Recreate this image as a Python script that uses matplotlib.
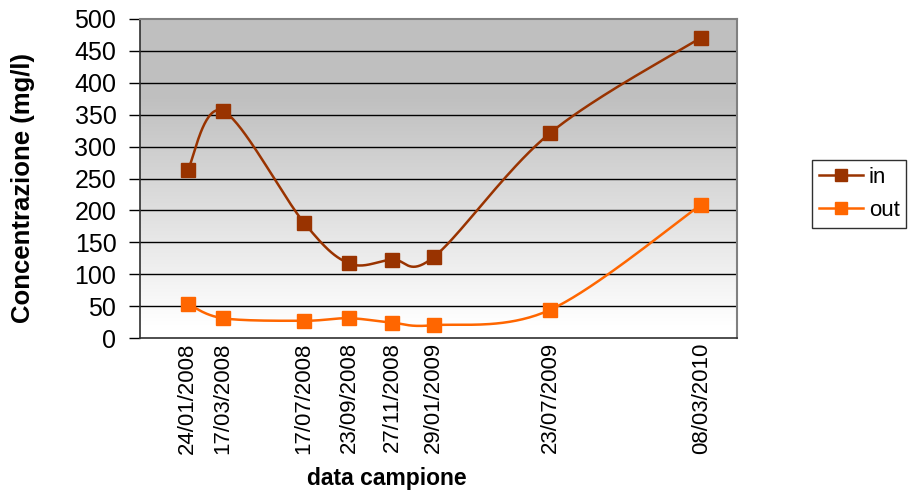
import numpy as np
import matplotlib
matplotlib.use("Agg")
import matplotlib.pyplot as plt
import matplotlib.dates as mdates
from datetime import datetime

plt.rcParams['font.family'] = ['Liberation Sans', 'DejaVu Sans']

#%% Data
date_labels = ["24/01/2008", "17/03/2008", "17/07/2008", "23/09/2008",
               "27/11/2008", "29/01/2009", "23/07/2009", "08/03/2010"]
in_vals = [263, 356, 181, 117, 123, 127, 321, 471]
out_vals = [54, 31, 27, 31, 24, 20, 44, 209]

dates = [datetime.strptime(d, "%d/%m/%Y") for d in date_labels]
xnum = mdates.date2num(dates)

col_in = "#993300"
col_out = "#FF6600"

#%% Figure
W, H, dpi = 9.11, 5.0, 100
fig = plt.figure(figsize=(W, H), dpi=dpi)
ax = fig.add_axes([140/911, 1 - 338/500, (737-140)/911, (338-19)/500])

x0 = mdates.date2num(datetime(2007, 11, 13))
x1 = mdates.date2num(datetime(2010, 5, 1))
ax.set_xlim(x0, x1)
ax.set_ylim(0, 500)

# pixel scale, so the smoothing is done in screen space like Excel does
sx = (737 - 140) / (x1 - x0)
sy = (338 - 19) / 500.


def smooth(xs, ys, n=40):
    P = np.column_stack([(np.asarray(xs) - x0) * sx, np.asarray(ys) * sy])
    pts = []
    for i in range(len(P) - 1):
        p0 = P[i - 1] if i > 0 else P[i]
        p1, p2 = P[i], P[i + 1]
        p3 = P[i + 2] if i + 2 < len(P) else P[i + 1]
        c1 = p1 + (p2 - p0) / 6.
        c2 = p2 - (p3 - p1) / 6.
        t = np.linspace(0, 1, n)[:, None]
        seg = ((1-t)**3) * p1 + 3*((1-t)**2)*t*c1 + 3*(1-t)*t**2*c2 + t**3*p2
        pts.append(seg if i == 0 else seg[1:])
    pts = np.vstack(pts)
    return pts[:, 0] / sx + x0, pts[:, 1] / sy


# background gradient (gray on top, white at the bottom)
yy = np.linspace(500, 0, 256)
g = np.clip(0.75 + 0.25 * (380 - yy) / (380 - 20), 0.75, 1.0)
img = np.repeat(g[:, None, None], 3, axis=2)
img = np.repeat(img, 2, axis=1)
ax.imshow(img, extent=[x0, x1, 0, 500], aspect='auto', zorder=0)

for yv in range(50, 500, 50):
    ax.axhline(yv, color="black", lw=1.0, zorder=1)

for vals, c, lab in [(in_vals, col_in, "in"), (out_vals, col_out, "out")]:
    sxs, sys_ = smooth(xnum, vals)
    ax.plot(sxs, sys_, color=c, lw=1.8, zorder=3)
    ax.plot(xnum, vals, 's', color=c, ms=10.5, zorder=4)
    ax.plot([], [], '-s', color=c, ms=9, lw=1.8, label=lab)

ax.set_yticks(np.arange(0, 501, 50))
ax.tick_params(axis='y', direction='out', length=8, width=1, labelsize=18, pad=9)
ax.set_xticks(xnum)
ax.set_xticklabels(date_labels, rotation=90, fontsize=16)
ax.tick_params(axis='x', length=0, pad=3)

for s in ['top', 'right']:
    ax.spines[s].set_color("#808080")
    ax.spines[s].set_linewidth(1.5)
for s in ['left', 'bottom']:
    ax.spines[s].set_color("#303030")
    ax.spines[s].set_linewidth(1.2)

ax.set_ylabel("Concentrazione (mg/l)", fontsize=18.5, fontweight='bold',
              va='center')
ax.yaxis.set_label_coords((23 - 140) / 597, (338 - 188) / 319)
ax.set_xlabel("data campione", fontsize=16.5, fontweight='bold', va='center')
ax.xaxis.set_label_coords((387 - 140) / 597, (338 - 478) / 319)

leg = fig.legend(loc='upper left', bbox_to_anchor=(812/911, 1 - 160/500),
                 fontsize=16, frameon=True, fancybox=False, framealpha=1,
                 edgecolor="#303030", handlelength=2.0, handletextpad=0.25,
                 borderpad=0.3, labelspacing=0.55, borderaxespad=0)
leg.get_frame().set_linewidth(1.0)

fig.savefig("out.png", dpi=dpi)
